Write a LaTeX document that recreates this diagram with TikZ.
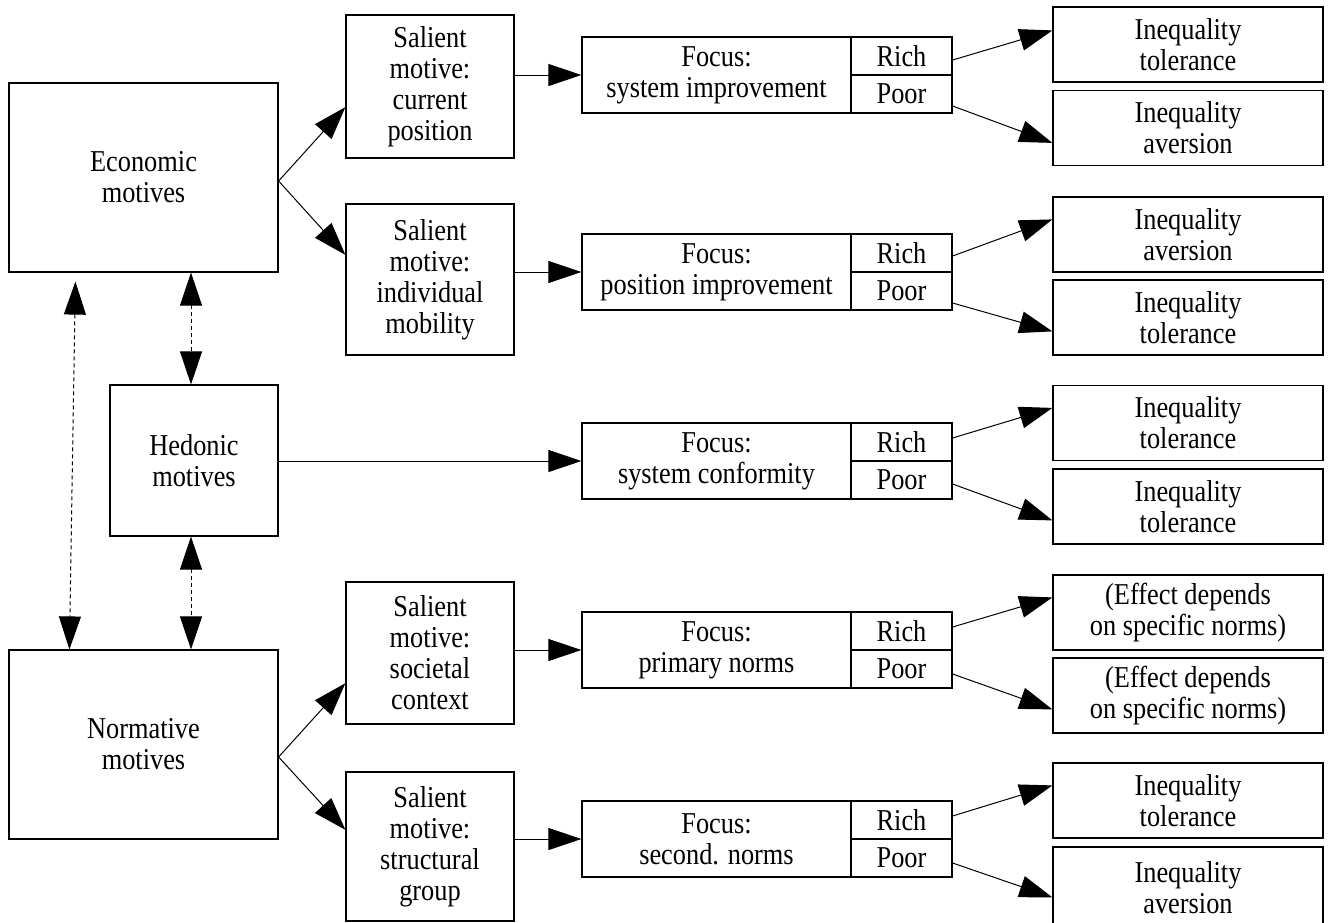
\documentclass[tikz,border=0pt]{standalone}
\usepackage{fontspec}
\setmainfont{Liberation Serif}[FakeStretch=0.87]
\usepackage{tikz}
\usetikzlibrary{positioning,arrows.meta,calc}

\tikzset{
  box/.style={draw, line width=1.2pt, inner sep=0pt, align=center,
    font=\fontsize{30.3}{31}\selectfont},
  salbox/.style={box, minimum width=168pt},
  focbox/.style={box, minimum width=269pt, minimum height=76pt},
  cellbox/.style={box, minimum width=101pt, minimum height=38pt},
  outbox/.style={box, minimum width=270pt, minimum height=75pt},
  arr/.style={line width=1pt, -{Triangle[length=33pt,width=22pt]}},
  darr/.style={line width=1pt, dash pattern=on 4pt off 3pt,
    {Triangle[length=33pt,width=22pt]}-{Triangle[length=33pt,width=22pt]}},
}

\begin{document}
\begin{tikzpicture}[x=1pt,y=-1pt]
  \useasboundingbox (0,0) rectangle (1331,922);

  % motives
  \node[box, minimum width=269pt, minimum height=189pt] (econ) at (143.5,177.5) {Economic\\motives};
  \node[box, minimum width=168pt, minimum height=151pt] (hed) at (194,460.5) {Hedonic\\motives};
  \node[box, minimum width=269pt, minimum height=189pt] (norm) at (143.5,744.5) {Normative\\motives};

  % salient motives
  \node[salbox, minimum height=143pt] (sal1) at (430,86.5) {Salient\\motive:\\current\\position};
  \node[salbox, minimum height=151pt] (sal2) at (430,279.5) {Salient\\motive:\\individual\\mobility};
  \node[salbox, minimum height=142pt] (sal3) at (430,653) {Salient\\motive:\\societal\\context};
  \node[salbox, minimum height=149pt] (sal4) at (430,846.5) {Salient\\motive:\\structural\\group};

  % focus boxes
  \node[focbox] (fl1) at (716.5,75) {Focus:\\system improvement};
  \node[cellbox] (r1) at (901.5,56) {Rich};
  \node[cellbox] (p1) at (901.5,94) {Poor};
  \node[focbox] (fl2) at (716.5,272) {Focus:\\position improvement};
  \node[cellbox] (r2) at (901.5,253) {Rich};
  \node[cellbox] (p2) at (901.5,291) {Poor};
  \node[focbox] (fl3) at (716.5,461) {Focus:\\system conformity};
  \node[cellbox] (r3) at (901.5,442) {Rich};
  \node[cellbox] (p3) at (901.5,480) {Poor};
  \node[focbox] (fl4) at (716.5,650) {Focus:\\primary norms};
  \node[cellbox] (r4) at (901.5,631) {Rich};
  \node[cellbox] (p4) at (901.5,669) {Poor};
  \node[focbox] (fl5) at (716.5,839) {Focus:\\second. norms};
  \node[cellbox] (r5) at (901.5,820) {Rich};
  \node[cellbox] (p5) at (901.5,858) {Poor};

  % outcomes
  \node[outbox] (o1) at (1188,44.5) {Inequality\\tolerance};
  \node[outbox] (o2) at (1188,128) {Inequality\\aversion};
  \node[outbox] (o3) at (1188,234.5) {Inequality\\aversion};
  \node[outbox] (o4) at (1188,317.5) {Inequality\\tolerance};
  \node[outbox] (o5) at (1188,423) {Inequality\\tolerance};
  \node[outbox] (o6) at (1188,506.5) {Inequality\\tolerance};
  \node[outbox] (o7) at (1188,612.5) {(Effect depends\\on specific norms)};
  \node[outbox] (o8) at (1188,695.5) {(Effect depends\\on specific norms)};
  \node[outbox] (o9) at (1188,800.5) {Inequality\\tolerance};
  \node[outbox, minimum height=82pt] (o10) at (1188,888) {Inequality\\aversion};

  % motive links
  \coordinate (dtop) at ($(econ.south west)+(67,9)$);
  \coordinate (dbot) at ($(norm.north west)+(61,0)$);
  \draw[darr] (dtop) -- (dbot);
  \draw[darr] ([xshift=-3pt]hed.north |- econ.south) -- ([xshift=-3pt]hed.north);
  \draw[darr] ([xshift=-3pt]hed.south) -- ([xshift=-3pt]hed.south |- norm.north);

  \draw[arr] ([yshift=-3.5pt]econ.east) -- ($(sal1.north west)!0.643!(sal1.south west)$);
  \draw[arr] ([yshift=-3.5pt]econ.east) -- ($(sal2.north west)!0.338!(sal2.south west)$);
  \draw[arr] ([yshift=-12.5pt]norm.east) -- ($(sal3.north west)!0.711!(sal3.south west)$);
  \draw[arr] ([yshift=-12.5pt]norm.east) -- ($(sal4.north west)!0.389!(sal4.south west)$);

  % salient to focus
  \draw[arr] (fl1.west -| sal1.east) -- (fl1.west);
  \draw[arr] (fl2.west -| sal2.east) -- (fl2.west);
  \draw[arr] (hed.east |- fl3.west) -- (fl3.west);
  \draw[arr] (fl4.west -| sal3.east) -- (fl4.west);
  \draw[arr] (fl5.west -| sal4.east) -- (fl5.west);

  % focus to outcomes
  \draw[arr] ([yshift=-4pt]r1.east) -- ([yshift=-24pt]o1.north west);
  \draw[arr] ([yshift=-12pt]p1.east) -- ([yshift=-53pt]o2.north west);
  \draw[arr] ([yshift=-3pt]r2.east) -- ([yshift=-23pt]o3.north west);
  \draw[arr] ([yshift=-12pt]p2.east) -- ([yshift=-52pt]o4.north west);
  \draw[arr] ([yshift=4pt]r3.east) -- ([yshift=-23pt]o5.north west);
  \draw[arr] ([yshift=-4pt]p3.east) -- ([yshift=-52pt]o6.north west);
  \draw[arr] ([yshift=4pt]r4.east) -- ([yshift=-23pt]o7.north west);
  \draw[arr] ([yshift=-5pt]p4.east) -- ([yshift=-52pt]o8.north west);
  \draw[arr] ([yshift=4pt]r5.east) -- ([yshift=-23pt]o9.north west);
  \draw[arr] ([yshift=-5pt]p5.east) -- ([yshift=-51pt]o10.north west);
\end{tikzpicture}
\end{document}
